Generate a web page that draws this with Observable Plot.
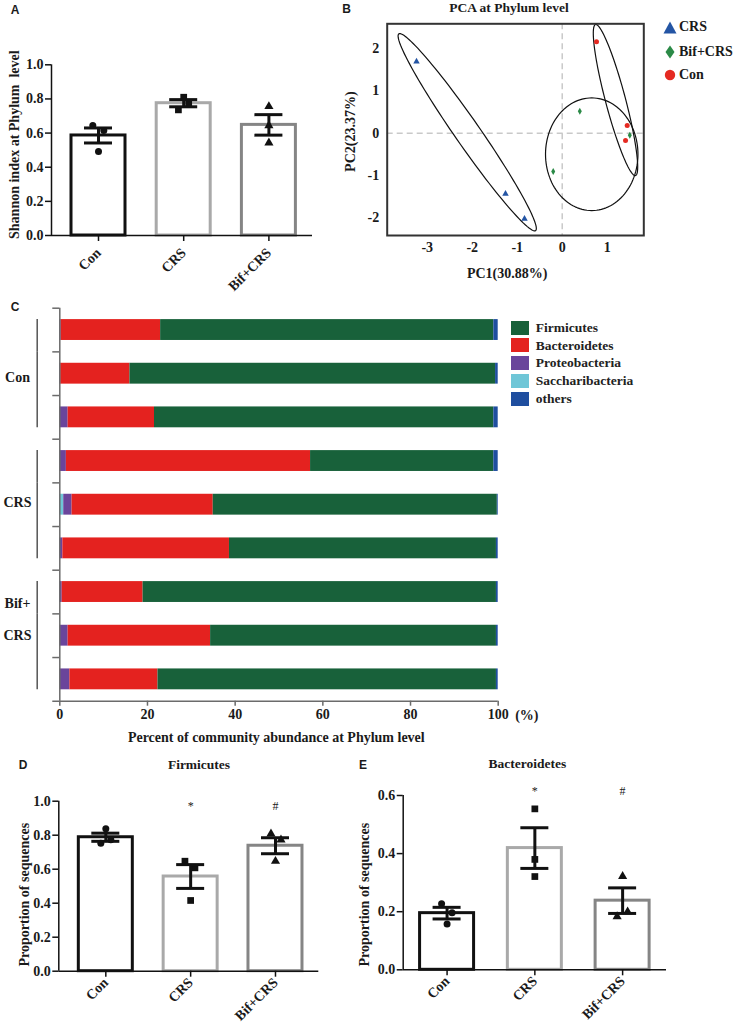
<!DOCTYPE html>
<html><head><meta charset="utf-8">
<script src="https://cdn.jsdelivr.net/npm/d3@7"></script>
<script src="https://cdn.jsdelivr.net/npm/@observablehq/plot@0.6"></script>
<style>
body{margin:0;background:#fff;}
#fig{position:relative;width:738px;height:1029px;overflow:hidden;background:#fff;font-family:"Liberation Serif","Times New Roman",serif;font-weight:bold;color:#1a1a1a;}
.plab{position:absolute;font-family:"Liberation Sans",Arial,sans-serif;font-weight:bold;font-size:12px;line-height:1;transform:translate(-50%,-50%);}
.ttl{position:absolute;font-size:13.5px;line-height:1;transform:translate(-50%,-50%);white-space:nowrap;}
.leg{position:absolute;font-size:13.5px;line-height:1;white-space:nowrap;display:flex;align-items:center;}
</style></head><body>
<div id="fig"></div>
<script>
// ---------- data ----------
const groups = ["Con", "CRS", "Bif+CRS"];

// Panel A: Shannon index
const shannonMean = [0.586, 0.775, 0.648];
const shannonSem = [0.044, 0.021, 0.06];
const shannonCon = [0.644, 0.615, 0.492];
const shannonCRS = [0.81, 0.775, 0.736];
const shannonBif = [0.756, 0.644, 0.543];

// Panel B: PCA
const pcaCRS = [[-3.238, 1.697], [-1.26, -1.434], [-0.838, -2.026]];
const pcaBif = [[0.391, 0.521], [-0.2, -0.906], [1.502, -0.047]];
const pcaCon = [[0.762, 2.163], [1.444, 0.182], [1.407, -0.173]];
const pcaEllipses = [
  {group: "CRS", cx: -2.111, cy: 0.024, ux: -1.519, uy: 2.328, vx: 0.228, vy: 0.169},
  {group: "Con", cx: 1.184, cy: 0.786, ux: -0.444, uy: 1.787, vx: 0.215, vy: 0.061},
  {group: "Bif+CRS", cx: 0.656, cy: -0.497, ux: 1.027, uy: 0, vx: 0, vy: 1.333}
];
const pcaXTicks = [-3, -2, -1, 0, 1];
const pcaYTicks = [-2, -1, 0, 1, 2];

// Panel C: community composition (%)
const samples = ["Con-1", "Con-2", "Con-3", "CRS-1", "CRS-2", "CRS-3", "Bif+CRS-1", "Bif+CRS-2", "Bif+CRS-3"];
const phyla = ["Firmicutes", "Bacteroidetes", "Proteobacteria", "Saccharibacteria", "others"];
const stackOrder = ["Saccharibacteria", "Proteobacteria", "Bacteroidetes", "Firmicutes", "others"];
const firmicutes = [76.0, 83.4, 77.4, 41.8, 64.8, 60.9, 80.6, 65.2, 77.2];
const bacteroidetes = [22.7, 15.8, 19.7, 55.7, 32.2, 38.0, 18.45, 32.5, 20.1];
const proteobacteria = [0.3, 0.2, 1.9, 1.5, 1.9, 0.7, 0.55, 1.9, 2.3];
const saccharibacteria = [0, 0, 0, 0, 0.9, 0, 0, 0, 0];
const others = [1.0, 0.6, 1.0, 1.0, 0.2, 0.4, 0.4, 0.4, 0.4];
const percentTicks = [0, 20, 40, 60, 80, 100];

// Panel D: Firmicutes proportion
const firmMean = [0.788, 0.557, 0.738];
const firmSem = [0.024, 0.07, 0.047];
const firmCon = [0.838, 0.753, 0.773];
const firmCRS = [0.647, 0.608, 0.416];
const firmBif = [0.808, 0.773, 0.647];
const firmNotes = ["", "*", "#"];

// Panel E: Bacteroidetes proportion
const bactMean = [0.195, 0.419, 0.238];
const bactSem = [0.02, 0.07, 0.044];
const bactCon = [0.227, 0.196, 0.158];
const bactCRS = [0.554, 0.38, 0.321];
const bactBif = [0.322, 0.183, 0.2];
const bactNotes = ["", "*", "#"];

// ---------- styles ----------
const groupColors = ["#111111", "#a9a9a9", "#858585"];
const groupSymbols = ["circle", "square", "triangle"];
const symbolR = {circle: 3.5, square: 3.8, triangle: 3.4};
const phylaColors = ["#18613a", "#e4221f", "#6a459b", "#6fc6d7", "#1f4e9f"];
const pcaColors = {CRS: "#2455a4", "Bif+CRS": "#2b8a47", Con: "#e52a22"};
const FONT = {fontFamily: '"Liberation Serif","Times New Roman",serif', fontSize: "14px", fontWeight: "bold", background: "transparent", color: "#1a1a1a", overflow: "visible"};

const fig = document.getElementById("fig");
function place(node, left, top) {
  node.style.position = "absolute";
  node.style.left = left + "px";
  node.style.top = top + "px";
  fig.appendChild(node);
}
function html(cls, text, cx, cy) {
  const d = document.createElement("div");
  d.className = cls;
  d.textContent = text;
  d.style.left = cx + "px";
  d.style.top = cy + "px";
  fig.appendChild(d);
}

// ---------- bar panels (A, D, E) ----------
function barPanel(o) {
  const rows = groups.map((g, i) => ({g, mean: o.mean[i], lo: o.mean[i] - o.sem[i], hi: o.mean[i] + o.sem[i], note: o.notes ? o.notes[i] : ""}));
  const step = (o.range[1] - o.range[0]) / groups.length;
  const barInset = (step - 54) / 2;
  const capInset = (step - 28) / 2;
  const pts = [];
  o.points.forEach((arr, i) => arr.forEach((v, j) => pts.push({g: groups[i], v, i, j})));
  const dots = pts.map(p => Plot.dot([p], {x: "g", y: "v", symbol: groupSymbols[p.i], r: symbolR[groupSymbols[p.i]], fill: "#111", dx: o.jitter[p.i][p.j]}));
  const marks = [
    Plot.barY(rows, {x: "g", y: "mean", fill: "white", stroke: "g", strokeWidth: 3, insetLeft: barInset, insetRight: barInset}),
    Plot.ruleY([0], {stroke: "#111", strokeWidth: 1.5}),
    Plot.ruleX([groups[0]], {y1: 0, y2: o.ymax, dx: o.ml - (o.range[0] + step / 2), stroke: "#111", strokeWidth: 1.5}),
    ...dots,
    Plot.ruleX(rows, {x: "g", y1: "lo", y2: "hi", stroke: "#111", strokeWidth: 3}),
    Plot.tickY(rows, {x: "g", y: "hi", stroke: "#111", strokeWidth: 3, insetLeft: capInset, insetRight: capInset}),
    Plot.tickY(rows, {x: "g", y: "lo", stroke: "#111", strokeWidth: 3, insetLeft: capInset, insetRight: capInset}),
    Plot.axisY({ticks: o.yticks, tickSize: 6, tickPadding: 2, tickFormat: d3.format(".1f"), stroke: "#111", strokeWidth: 1.5, label: null}),
    Plot.axisX({tickSize: 6, tickPadding: o.xpad, tickRotate: -45, stroke: "#111", strokeWidth: 1.5, label: null}),
    Plot.text([o.ylabel], {frameAnchor: "left", textAnchor: "middle", lineAnchor: "middle", rotate: -90, dx: o.ylabelX - o.ml, dy: o.ylabelDy})
  ];
  if (o.notes) marks.push(Plot.text(rows.filter(r => r.note), {x: "g", text: "note", frameAnchor: "top", lineAnchor: "middle", dy: o.noteDy, fontWeight: "normal", fontSize: 12}));
  const chart = Plot.plot({
    width: o.width, height: o.height,
    marginLeft: o.ml, marginRight: o.mr, marginTop: o.mt, marginBottom: o.mb,
    x: {type: "band", domain: groups, range: o.range, padding: 0, round: false, label: null},
    y: {domain: [0, o.ymax], label: null},
    color: {domain: groups, range: groupColors},
    style: FONT,
    marks
  });
  place(chart, o.left, o.top);
}

barPanel({left: 0, top: 0, width: 330, height: 290, ml: 51, mr: 18, mt: 64.3, mb: 55, range: [55.4, 311],
  ymax: 1, yticks: [0, 0.2, 0.4, 0.6, 0.8, 1.0], mean: shannonMean, sem: shannonSem,
  points: [shannonCon, shannonCRS, shannonBif], jitter: [[-5.7, 5.3, 0], [0, 5, -5.3], [0, 0, 0]],
  ylabel: "Shannon index at Phylum  level", ylabelX: 14, ylabelDy: -5.5, xpad: 9});

barPanel({left: 0, top: 750, width: 340, height: 279, ml: 58.3, mr: 21.7, mt: 50.7, mb: 58.3, range: [62.9, 317.4],
  ymax: 1, yticks: [0, 0.2, 0.4, 0.6, 0.8, 1.0], mean: firmMean, sem: firmSem,
  points: [firmCon, firmCRS, firmBif], jitter: [[0, -5, 5], [-5.7, 4.3, 0], [-4.5, 5.5, 0]],
  ylabel: "Proportion of sequences", ylabelX: 24, ylabelDy: 8.5, xpad: 3, notes: firmNotes, noteDy: 5});

barPanel({left: 340, top: 750, width: 398, height: 279, ml: 62.7, mr: 72, mt: 45, mb: 59.7, range: [62.7, 326],
  ymax: 0.6, yticks: [0, 0.2, 0.4, 0.6], mean: bactMean, sem: bactSem,
  points: [bactCon, bactCRS, bactBif], jitter: [[-5.5, 5, 0], [0, 0, 0], [0, -5.5, 5]],
  ylabel: "Proportion of sequences", ylabelX: 24, ylabelDy: 12, xpad: 3, notes: bactNotes, noteDy: -4});

// ---------- panel B: PCA ----------
{
  const pts = [
    ...pcaCRS.map(([x, y]) => ({group: "CRS", x, y})),
    ...pcaBif.map(([x, y]) => ({group: "Bif+CRS", x, y})),
    ...pcaCon.map(([x, y]) => ({group: "Con", x, y}))
  ];
  const outline = pcaEllipses.flatMap(e => d3.range(0, 121).map(k => {
    const t = k / 120 * 2 * Math.PI;
    return {group: e.group, x: e.cx + e.ux * Math.cos(t) + e.vx * Math.sin(t), y: e.cy + e.uy * Math.cos(t) + e.vy * Math.sin(t)};
  }));
  const chart = Plot.plot({
    width: 408, height: 290, marginLeft: 56.7, marginRight: 94.7, marginTop: 23.3, marginBottom: 55,
    x: {domain: [-3.889, 1.813], label: null},
    y: {domain: [-2.42, 2.59], label: null},
    style: FONT,
    marks: [
      Plot.ruleX([0], {stroke: "#c9c9c9", strokeWidth: 1.5, strokeDasharray: "6,4"}),
      Plot.ruleY([0], {stroke: "#c9c9c9", strokeWidth: 1.5, strokeDasharray: "6,4"}),
      Plot.line(outline, {x: "x", y: "y", z: "group", stroke: "#111", strokeWidth: 1.2}),
      Plot.dot(pts.filter(d => d.group === "CRS"), {x: "x", y: "y", symbol: "triangle", r: 2.4, fill: pcaColors.CRS}),
      Plot.dot(pts.filter(d => d.group === "Bif+CRS"), {x: "x", y: "y", symbol: "diamond", r: 2.1, fill: pcaColors["Bif+CRS"]}),
      Plot.dot(pts.filter(d => d.group === "Con"), {x: "x", y: "y", symbol: "circle", r: 2.5, fill: pcaColors.Con}),
      Plot.frame({stroke: "#333", strokeWidth: 2}),
      Plot.axisX({ticks: pcaXTicks, tickSize: 0, tickPadding: 7, tickFormat: d => String(d), label: null}),
      Plot.axisY({ticks: pcaYTicks, tickSize: 0, tickPadding: 8, tickFormat: d => String(d), label: null}),
      Plot.text(["PC1(30.88%)"], {frameAnchor: "bottom", lineAnchor: "middle", dx: -8.3, dy: 38}),
      Plot.text(["PC2(23.37%)"], {frameAnchor: "left", textAnchor: "middle", lineAnchor: "middle", rotate: -90, dx: -36.7, dy: 2})
    ]
  });
  place(chart, 330, 0);
}

// ---------- panel C: stacked composition ----------
{
  const valuesByPhylum = {Firmicutes: firmicutes, Bacteroidetes: bacteroidetes, Proteobacteria: proteobacteria, Saccharibacteria: saccharibacteria, others};
  const abundance = samples.flatMap((s, i) => stackOrder.map(p => ({sample: s, phylum: p, value: valuesByPhylum[p][i]})));
  const mt = 17.7, mb = 49.3, h = 460;
  const step = (h - mt - mb) / samples.length;
  const inset = 11.4;
  const axisGray = "#6b6b6b";
  const firstRows = [samples[0], samples[3], samples[6]];
  const midRows = [samples[1], samples[4], samples[7]];
  const lastRows = [samples[2], samples[5], samples[8]];
  const tickLen = 1.6; // percent units ≈ 7px
  const chart = Plot.plot({
    width: 560, height: h, marginLeft: 59.3, marginRight: 62.3, marginTop: mt, marginBottom: mb,
    x: {domain: [0, 100], label: null},
    y: {type: "band", domain: samples, padding: 0, round: false, axis: null, label: null},
    color: {domain: phyla, range: phylaColors},
    style: FONT,
    marks: [
      Plot.barX(abundance, Plot.stackX({y: "sample", x: "value", fill: "phylum", insetTop: inset, insetBottom: inset})),
      Plot.ruleX([0], {stroke: axisGray, strokeWidth: 1.5}),
      Plot.ruleY(samples, {y: d => d, x1: -tickLen, x2: 0, dy: -step / 2, stroke: axisGray, strokeWidth: 1.5}),
      Plot.ruleY([samples[samples.length - 1]], {y: d => d, x1: -tickLen, x2: 100, dy: step / 2, stroke: axisGray, strokeWidth: 1.5}),
      Plot.axisX({ticks: percentTicks, tickSize: 5, tickPadding: 3, tickFormat: d => String(d), stroke: axisGray, strokeWidth: 1.5, label: null}),
      Plot.text(["(%)"], {x: () => 100, frameAnchor: "bottom", textAnchor: "start", lineAnchor: "middle", dx: 17, dy: 14.5}),
      Plot.text(["Percent of community abundance at Phylum level"], {frameAnchor: "bottom", lineAnchor: "middle", dx: -2.7, dy: 36}),
      Plot.tickX(firstRows, {x: () => 0, y: d => d, dx: -22.6, insetTop: inset, stroke: "#555", strokeWidth: 1.5}),
      Plot.tickX(midRows, {x: () => 0, y: d => d, dx: -22.6, stroke: "#555", strokeWidth: 1.5}),
      Plot.tickX(lastRows, {x: () => 0, y: d => d, dx: -22.6, insetBottom: inset, stroke: "#555", strokeWidth: 1.5}),
      Plot.text(["Con"], {x: () => 0, y: () => samples[1], dx: -42.3, dy: 4}),
      Plot.text(["CRS"], {x: () => 0, y: () => samples[4], dx: -42.3, dy: -2.5}),
      Plot.text(["Bif+"], {x: () => 0, y: () => samples[6], dx: -42.3, dy: 11.5}),
      Plot.text(["CRS"], {x: () => 0, y: () => samples[7], dx: -42.3, dy: 0})
    ]
  });
  place(chart, 0, 290);

  // legend C
  phyla.forEach((p, i) => {
    const row = document.createElement("div");
    row.className = "leg";
    row.style.left = "510.7px";
    row.style.top = (320.7 + i * 17.7) + "px";
    row.style.height = "14px";
    const sw = document.createElement("span");
    sw.style.cssText = `display:inline-block;width:18px;height:14px;background:${phylaColors[i]};margin-right:7px;`;
    const tx = document.createElement("span");
    tx.textContent = p;
    tx.style.color = "#222";
    row.appendChild(sw); row.appendChild(tx);
    fig.appendChild(row);
  });
}

// ---------- legend B ----------
{
  const items = [
    {label: "CRS", y: 27, svg: `<svg width="14" height="13"><polygon points="7,0.5 13.5,12.5 0.5,12.5" fill="${pcaColors.CRS}"/></svg>`},
    {label: "Bif+CRS", y: 52, svg: `<svg width="14" height="14"><polygon points="7,0.5 11.5,7 7,13.5 2.5,7" fill="${pcaColors["Bif+CRS"]}"/></svg>`},
    {label: "Con", y: 74.5, svg: `<svg width="14" height="12"><circle cx="7" cy="6" r="5.2" fill="${pcaColors.Con}"/></svg>`}
  ];
  items.forEach(it => {
    const row = document.createElement("div");
    row.className = "leg";
    row.style.left = "663px";
    row.style.top = (it.y - 8) + "px";
    row.style.height = "16px";
    row.style.fontSize = "14px";
    row.innerHTML = `<span style="display:inline-flex;width:14px;margin-right:2px">${it.svg}</span><span>${it.label}</span>`;
    fig.appendChild(row);
  });
}

// ---------- titles & panel letters ----------
html("ttl", "PCA at Phylum level", 509, 8);
html("ttl", "Firmicutes", 199, 765);
html("ttl", "Bacteroidetes", 527.3, 764);
html("plab", "A", 15, 10);
html("plab", "B", 346.7, 8.5);
html("plab", "C", 15, 306.7);
html("plab", "D", 23, 765);
html("plab", "E", 363, 765);
</script>
</body></html>
